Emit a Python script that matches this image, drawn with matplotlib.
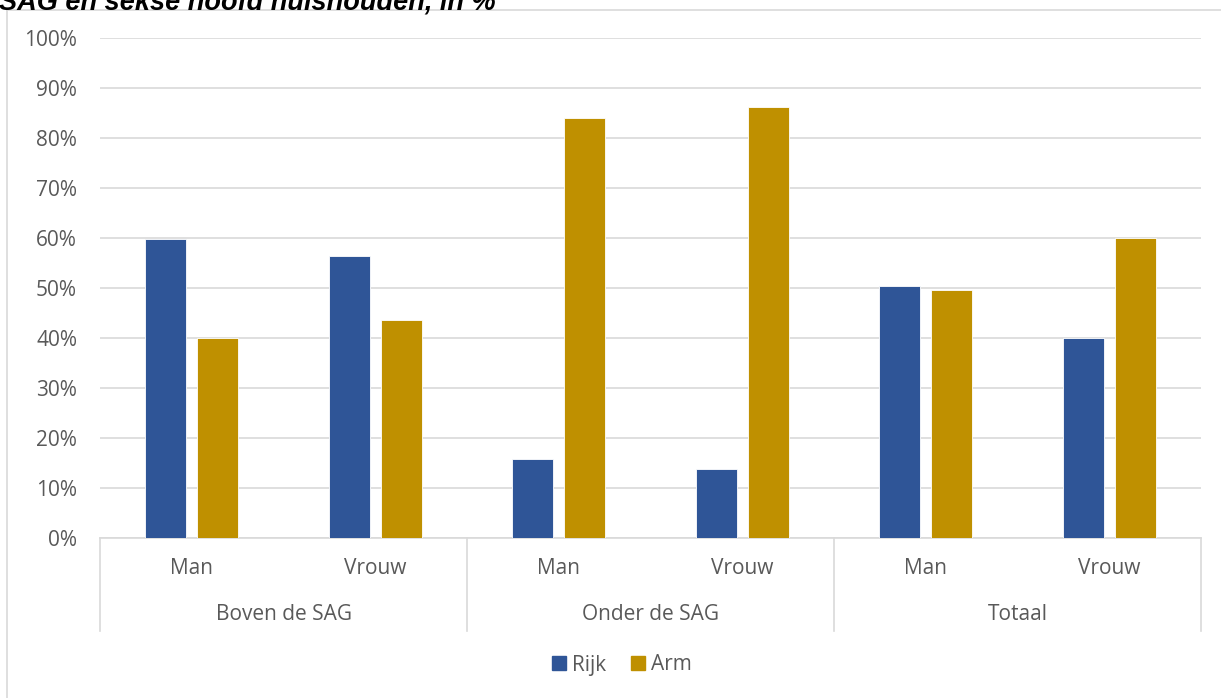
import matplotlib
matplotlib.use("Agg")
import matplotlib.pyplot as plt
import numpy as np
from matplotlib.patches import Rectangle
from matplotlib.lines import Line2D

groups = ["Boven de SAG", "Onder de SAG", "Totaal"]
sexes = ["Man", "Vrouw"]
series = ["Rijk", "Arm"]
rijk = [59.9, 56.4, 15.9, 13.8, 50.4, 40.0]
arm = [40.1, 43.6, 84.1, 86.2, 49.6, 60.0]
yticks = [0, 10, 20, 30, 40, 50, 60, 70, 80, 90, 100]
title = "SAG en sekse hoofd huishouden, in %"

colors = ["#2F5597", "#BF9000"]
txt = "#595959"
grid = "#D9D9D9"
font = "Open Sans"
fs = 15

W, H = 1221, 698
fig = plt.figure(figsize=(W / 100, H / 100), dpi=100)
fig.patch.set_facecolor("white")

# outer chart frame (left and top visible)
fig.add_artist(Line2D([7 / W, 7 / W], [0, 1 - 10 / H], color=grid, lw=1.2))
fig.add_artist(Line2D([7 / W, 1], [1 - 10 / H, 1 - 10 / H], color=grid, lw=1.2))

fig.text(-1 / W, 1 - 3 / H, title, fontsize=19.5, fontweight="bold", fontstyle="italic",
         family="Liberation Sans", color="black", va="center", ha="left")

left, right, top, bottom = 100, 1201, 38, 538
ax = fig.add_axes([left / W, 1 - bottom / H, (right - left) / W, (bottom - top) / H])

n = len(rijk)
x = np.arange(n)
bw = 41 / 183.5
gap = 11 / 183.5
ax.bar(x - (bw + gap) / 2, rijk, width=bw, color=colors[0], edgecolor="white", linewidth=0.6, label=series[0], zorder=3)
ax.bar(x + (bw + gap) / 2, arm, width=bw, color=colors[1], edgecolor="white", linewidth=0.6, label=series[1], zorder=3)

ax.set_xlim(-0.5, n - 0.5)
ax.set_ylim(0, 100)
ax.set_yticks(yticks)
ax.set_yticklabels([f"{v}%" for v in yticks], fontsize=fs, color=txt, family=font)
ax.tick_params(axis="y", length=0, pad=16.5)
ax.set_xticks([])
ax.grid(axis="y", color=grid, lw=1.2, zorder=0)
for s in ["top", "right", "left"]:
    ax.spines[s].set_visible(False)
ax.spines["bottom"].set_color(grid)
ax.spines["bottom"].set_linewidth(1.2)

ph = bottom - top
# category labels
for i in range(n):
    ax.text(i, -(568 - bottom) / ph * 100, sexes[i % 2], ha="center", va="center",
            fontsize=fs, color=txt, family=font, clip_on=False)
for g, name in enumerate(groups):
    ax.text(2 * g + 0.5, -(615 - bottom) / ph * 100, name, ha="center", va="center",
            fontsize=fs, color=txt, family=font, clip_on=False)
for b in [-0.5, 1.5, 3.5, 5.5]:
    ax.plot([b, b], [0, -(631 - bottom) / ph * 100], color=grid, lw=1.2, clip_on=False)

leg = fig.legend(handles=[Rectangle((0, 0), 1, 1, color=c) for c in colors], labels=series,
                 loc="center", bbox_to_anchor=(622 / W, 1 - 665 / H), ncol=2, frameon=False,
                 handlelength=0.65, handleheight=0.65, handletextpad=0.3, columnspacing=1.2,
                 prop={"family": font, "size": fs})
for t in leg.get_texts():
    t.set_color(txt)

fig.savefig("out.png", dpi=100)
